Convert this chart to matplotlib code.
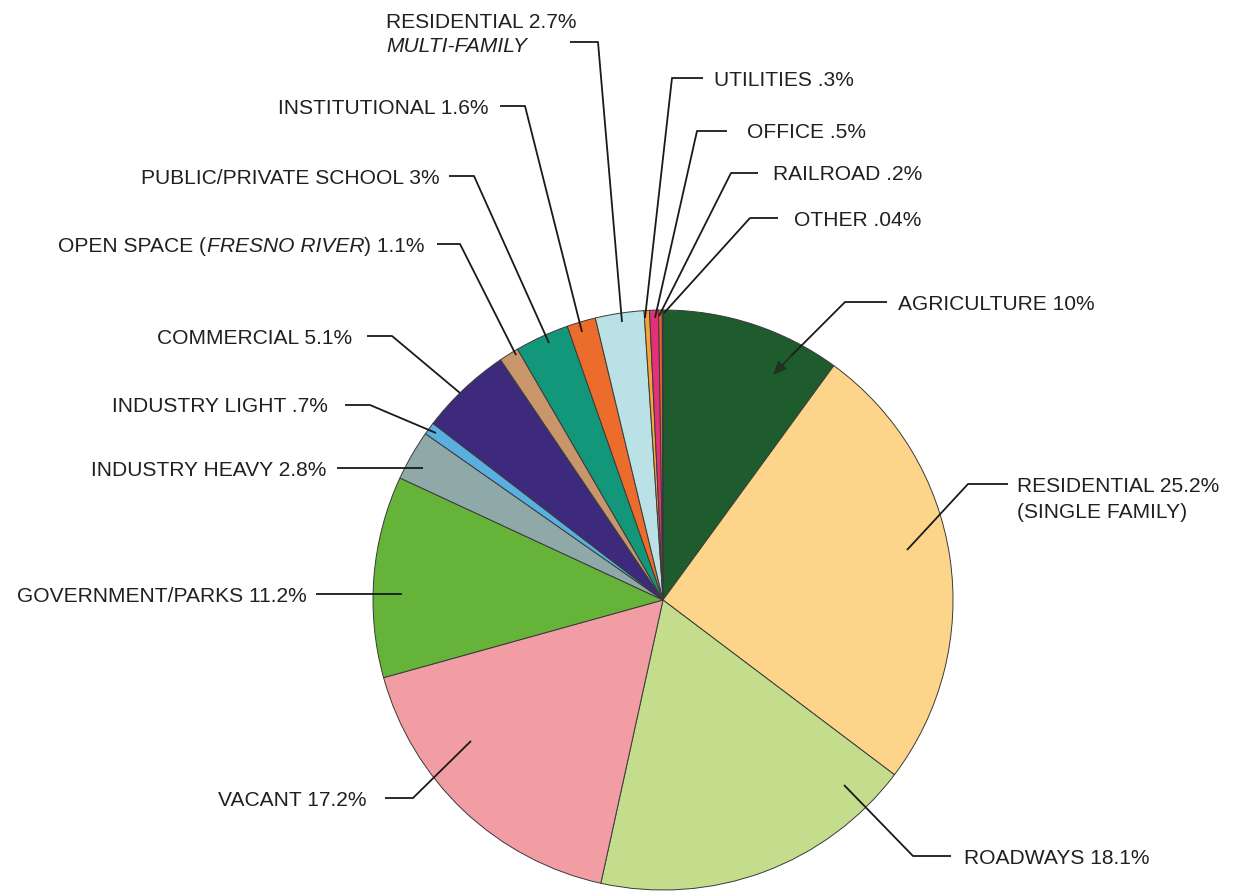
import matplotlib
matplotlib.use("Agg")
import matplotlib.pyplot as plt
from matplotlib.lines import Line2D

plt.rcParams['font.family'] = ['Liberation Sans', 'DejaVu Sans']

# ---- data ----
categories = ["AGRICULTURE", "RESIDENTIAL SINGLE FAMILY", "ROADWAYS", "VACANT",
              "GOVERNMENT/PARKS", "INDUSTRY HEAVY", "INDUSTRY LIGHT", "COMMERCIAL",
              "OPEN SPACE", "PUBLIC/PRIVATE SCHOOL", "INSTITUTIONAL",
              "RESIDENTIAL MULTI-FAMILY", "UTILITIES", "OFFICE", "RAILROAD", "OTHER"]
values = [10, 25.2, 18.1, 17.2, 11.2, 2.8, 0.7, 5.1, 1.1, 3, 1.6, 2.7, 0.3, 0.5, 0.2, 0.04]
colors = ["#1e5c2e", "#fdd58a", "#c3dd8c", "#f29ca3", "#66b33a", "#8ea9a8", "#5aaee0",
          "#3d2a7c", "#c8966a", "#13977a", "#ec6c2c", "#b9e1e6", "#f4a43a", "#e2307a",
          "#f06030", "#f5e030"]

W, H = 1236, 892
fig = plt.figure(figsize=(W / 100, H / 100), dpi=100)
fig.patch.set_facecolor("white")
ax = fig.add_axes([0, 0, 1, 1])

def Y(p):
    return H - p

ax.pie(values, colors=colors, center=(663, Y(600)), radius=290, startangle=90,
       counterclock=False, wedgeprops=dict(edgecolor="#3a3a3a", linewidth=0.7))
ax.set_xlim(0, W)
ax.set_ylim(0, H)
ax.set_aspect("auto")
ax.axis("off")

TXT = "#231f20"
FS = 15.1
CAP = 7.5

def line(pts):
    xs = [p[0] for p in pts]
    ys = [Y(p[1]) for p in pts]
    ax.add_line(Line2D(xs, ys, color="#1a1a1a", lw=1.3, solid_capstyle="butt"))

def text(x, yc, s, ha, style="normal"):
    return ax.text(x, Y(yc + CAP), s, ha=ha, va="baseline", fontsize=FS,
                   color=TXT, style=style)

# left-side labels: (text right x, center y, label, leader polyline)
left_labels = [
    (488, 106, "INSTITUTIONAL 1.6%", [(500, 106), (525, 106), (582, 332)]),
    (440, 176, "PUBLIC/PRIVATE SCHOOL 3%", [(449, 176), (474, 176), (549, 343)]),
    (352, 336, "COMMERCIAL 5.1%", [(367, 336), (392, 336), (460, 393)]),
    (328, 405, "INDUSTRY LIGHT .7%", [(345, 405), (370, 405), (436, 433)]),
    (326, 468, "INDUSTRY HEAVY 2.8%", [(337, 468), (423, 468)]),
    (307, 594, "GOVERNMENT/PARKS 11.2%", [(316, 594), (402, 594)]),
    (367, 798, "VACANT 17.2%", [(385, 798), (413, 798), (471, 741)]),
]
for x, yc, s, pts in left_labels:
    text(x, yc, s, "right")
    line(pts)

# right-side labels
right_labels = [
    (714, 78, "UTILITIES .3%", [(703, 78), (672, 78), (645, 318)]),
    (747, 131, "OFFICE .5%", [(727, 131), (697, 131), (655, 318)]),
    (773, 173, "RAILROAD .2%", [(758, 173), (731, 173), (659, 316)]),
    (794, 218, "OTHER .04%", [(778, 218), (750, 218), (664, 313)]),
    (964, 856, "ROADWAYS 18.1%", [(951, 856), (913, 856), (844, 785)]),
]
for x, yc, s, pts in right_labels:
    text(x, yc, s, "left")
    line(pts)

# residential single family
text(1017, 485, "RESIDENTIAL 25.2%", "left")
text(1017, 511, "(SINGLE FAMILY)", "left")
line([(1008, 484), (968, 484), (907, 550)])

# residential multi-family
text(386, 20, "RESIDENTIAL 2.7%", "left")
text(386, 44, "MULTI-FAMILY", "left", style="italic")
line([(570, 42), (598, 42), (622, 322)])

# agriculture with arrow
text(898, 302, "AGRICULTURE 10%", "left")
line([(887, 302), (845, 302), (790, 357)])
ax.annotate("", xy=(773, Y(375)), xytext=(792, Y(355)),
            arrowprops=dict(arrowstyle="-|>,head_length=0.8,head_width=0.35",
                            color="#1f3320", lw=1.3, shrinkA=0, shrinkB=0))

# open space with italic part
fig.canvas.draw()
r = fig.canvas.get_renderer()
inv = ax.transData.inverted()
xr = 425
yc = 244
for s, st in [(") 1.1%", "normal"), ("FRESNO RIVER", "italic"), ("OPEN SPACE (", "normal")]:
    t = text(xr, yc, s, "right", style=st)
    bb = t.get_window_extent(renderer=r)
    x0 = inv.transform((bb.x0, bb.y0))[0]
    xr = x0 - (1.5 if st == "italic" else 0)
line([(437, 244), (460, 244), (516, 355)])

fig.savefig("out.png", dpi=100, facecolor="white")
